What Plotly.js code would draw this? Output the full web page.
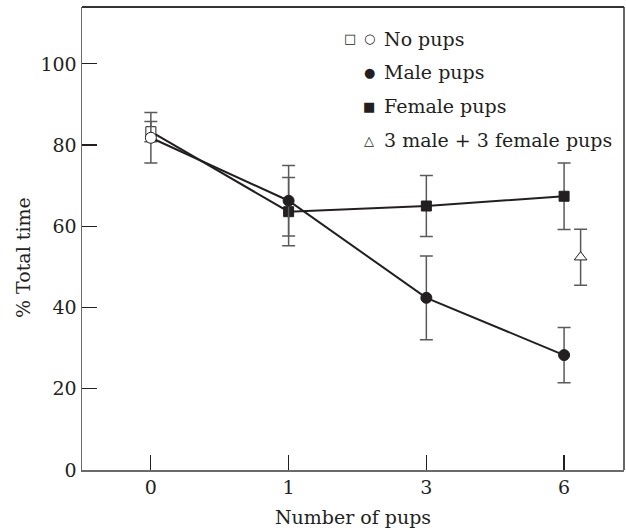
<!DOCTYPE html>
<html>
<head>
<meta charset="utf-8">
<script src="https://cdn.plot.ly/plotly-3.0.1.min.js"></script>
<style>html,body{margin:0;padding:0;background:#fff;}#chart{width:626px;height:530px;}</style>
</head>
<body>
<div id="chart"></div>
<script>
// Categories (number of pups)
const categories = ["0", "1", "3", "6"];
// Series values (% total time) and standard errors
const femaleValues = [83.3, 63.6, 65.0, 67.4];
const femaleErrors = [2.5, 8.4, 7.5, 8.2];
const maleValues = [81.8, 66.3, 42.4, 28.3];
const maleErrors = [6.2, 8.7, 10.3, 6.8];
const mixedCategory = "6";
const mixedValue = [52.4];
const mixedError = [6.9];
const yTickVals = [0, 20, 40, 60, 80, 100];
const legendLabels = ["No pups", "Male pups", "Female pups", "3 male + 3 female pups"];
const xTitle = "Number of pups";
const yTitle = "% Total time";

const ink = "#231f20";
const errColor = "#5a5a5a";
const xIdx = categories.map((c, i) => i);
const mixedOffset = 0.12;
const mixedX = [categories.indexOf(mixedCategory) + mixedOffset];

const errStyle = arr => ({type: "data", array: arr, visible: true, color: errColor, thickness: 1.5, width: 6.5});

const traces = [
  {
    x: xIdx, y: femaleValues, type: "scatter", mode: "lines+markers",
    line: {color: ink, width: 2},
    marker: {symbol: "square", size: 10, color: ["#ffffff", ink, ink, ink], line: {color: ink, width: 1}},
    error_y: errStyle(femaleErrors), showlegend: false, cliponaxis: false
  },
  {
    x: xIdx, y: maleValues, type: "scatter", mode: "lines+markers",
    line: {color: ink, width: 2},
    marker: {symbol: "circle", size: 11, color: ["#ffffff", ink, ink, ink], line: {color: ink, width: 1}},
    error_y: errStyle(maleErrors), showlegend: false, cliponaxis: false
  },
  {
    x: mixedX, y: mixedValue, type: "scatter", mode: "markers",
    marker: {symbol: "triangle-up", size: 11, color: "#ffffff", line: {color: ink, width: 1}},
    error_y: errStyle(mixedError), showlegend: false, cliponaxis: false
  }
];

const serif = "DejaVu Serif, serif";
const L = 82, R = 624, T = 7, B = 470;
const px = x => (x - L) / (R - L);
const py = y => (B - y) / (B - T);
const rows = [39, 72, 106, 140];
const annotations = [];
const sym = (ch, x, y) => annotations.push({text: ch, x: px(x), y: py(y), xref: "paper", yref: "paper", showarrow: false, xanchor: "center", yanchor: "middle", font: {family: "DejaVu Sans", size: 13, color: ink}});
sym("\u25A1", 350, rows[0]);
sym("\u25CB", 369, rows[0]);
sym("\u25CF", 369, rows[1]);
sym("\u25A0", 369, rows[2]);
sym("\u25B3", 369, rows[3]);
legendLabels.forEach((t, i) => {
  annotations.push({text: t, x: px(382), y: py(rows[i]), xref: "paper", yref: "paper", showarrow: false, xanchor: "left", yanchor: "middle", font: {family: serif, size: 19, color: ink}});
});
annotations.push({text: yTitle, textangle: -90, x: px(23), y: py(258), xref: "paper", yref: "paper", showarrow: false, xanchor: "center", yanchor: "middle", font: {family: serif, size: 19, color: ink}});

const layout = {
  width: 626, height: 530,
  margin: {l: L, r: 626 - R, t: T, b: 530 - B, pad: 0},
  paper_bgcolor: "#ffffff", plot_bgcolor: "#ffffff",
  font: {family: serif, size: 19, color: ink},
  xaxis: {
    range: [-0.5, 3.435], tickvals: xIdx, ticktext: categories,
    ticks: "inside", ticklen: 15, tickwidth: 1.2, tickcolor: ink,
    showline: true, linecolor: "#6a6a6a", linewidth: 1.5,
    showgrid: false, zeroline: false,
    tickfont: {family: serif, size: 19, color: ink},
    title: {text: xTitle, font: {family: serif, size: 19, color: ink}, standoff: 13}
  },
  yaxis: {
    range: [0, 114], tickvals: yTickVals,
    ticks: "inside", ticklen: 15, tickwidth: 1.2, tickcolor: ink,
    showline: true, linecolor: "#6a6a6a", linewidth: 1.5,
    showgrid: false, zeroline: false,
    tickfont: {family: serif, size: 19, color: ink}
  },
  shapes: [
    {type: "line", xref: "paper", yref: "paper", x0: 0, x1: 1, y0: 1, y1: 1, line: {color: "#333", width: 2}},
    {type: "line", xref: "paper", yref: "paper", x0: 1, x1: 1, y0: 0, y1: 1, line: {color: "#333", width: 1.5}}
  ],
  annotations: annotations
};

Plotly.newPlot("chart", traces, layout, {displayModeBar: false, staticPlot: true});
</script>
</body>
</html>
